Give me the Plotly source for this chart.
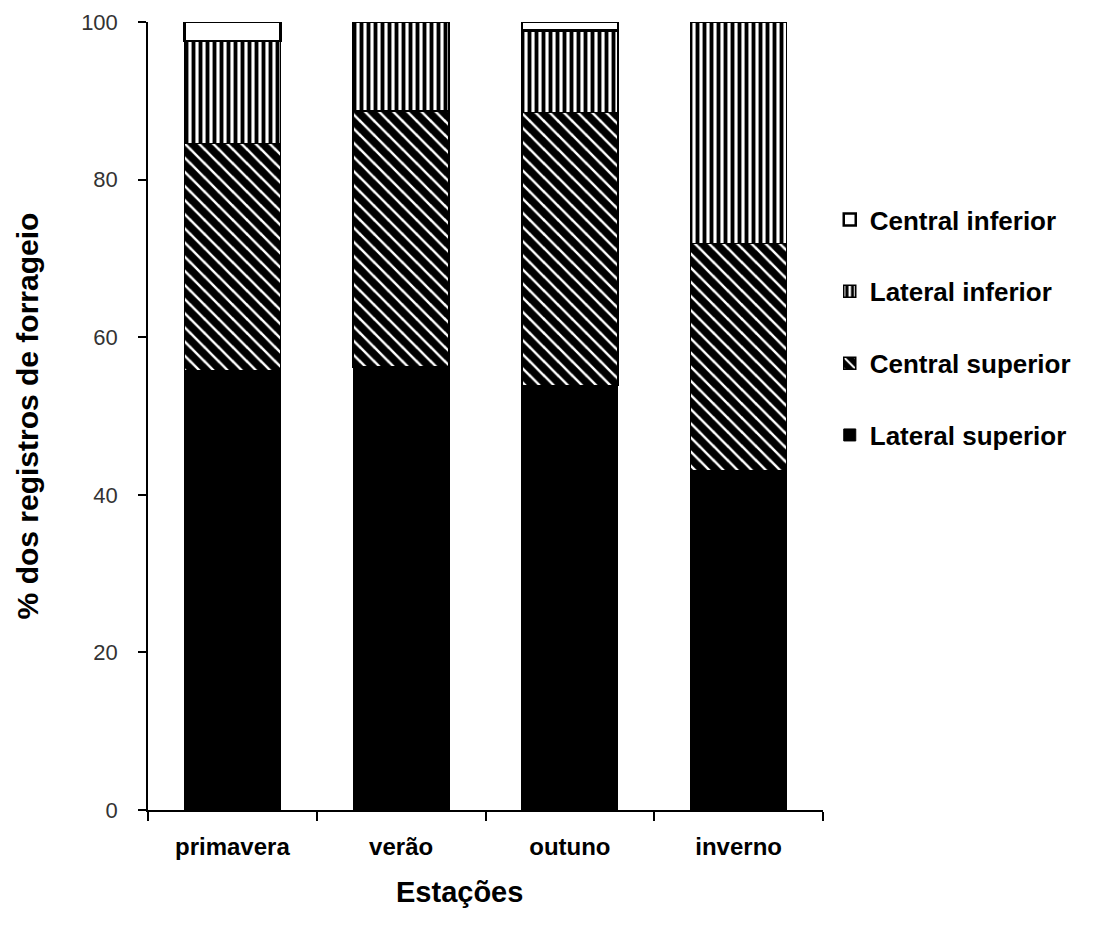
import plotly.graph_objects as go

categories = ["primavera", "verão", "outuno", "inverno"]
lateral_superior = [55.8, 56.2, 53.9, 43.1]
central_superior = [28.8, 32.5, 34.6, 28.8]
lateral_inferior = [13.0, 11.3, 10.4, 28.1]
central_inferior = [2.4, 0.0, 1.1, 0.0]
y_ticks = [0, 20, 40, 60, 80, 100]

fig = go.Figure()

fig.add_trace(go.Bar(
    x=categories, y=lateral_superior, name="Lateral superior",
    legendgroup="a", legendrank=4,
    marker=dict(color="black", line=dict(color="black", width=1)),
))
fig.add_trace(go.Bar(
    x=categories, y=central_superior, name="Central superior",
    legendgroup="b", legendrank=3,
    marker=dict(color="black", line=dict(color="black", width=1.5),
                pattern=dict(shape="\\", bgcolor="black", fgcolor="white",
                             size=10, solidity=0.25, fillmode="replace")),
))
fig.add_trace(go.Bar(
    x=categories, y=lateral_inferior, name="Lateral inferior",
    legendgroup="c", legendrank=2,
    marker=dict(color="white", line=dict(color="black", width=1.5),
                pattern=dict(shape="|", bgcolor="white", fgcolor="black",
                             size=7, solidity=0.55, fillmode="replace")),
))
fig.add_trace(go.Bar(
    x=categories, y=central_inferior, name="Central inferior",
    legendgroup="d", legendrank=1,
    marker=dict(color="white", line=dict(color="black", width=2.5)),
))

font_family = "Liberation Sans, Arial, sans-serif"

fig.update_layout(
    width=1090, height=934,
    barmode="stack", bargap=0.43,
    plot_bgcolor="white", paper_bgcolor="white",
    margin=dict(l=140, r=275, t=14, b=132),
    font=dict(family=font_family, color="black"),
    showlegend=True,
    legend=dict(
        x=1.01, y=0.779, xanchor="left", yanchor="top",
        traceorder="grouped", tracegroupgap=35,
        font=dict(size=26, family=font_family, weight="bold"),
        itemwidth=30,
    ),
    xaxis=dict(
        automargin=False,
        showline=True, linecolor="black", linewidth=1.5,
        ticks="outside", ticklen=9, tickcolor="black", tickwidth=1.5,
        tickson="boundaries", ticklabelstandoff=14,
        tickfont=dict(size=24, family=font_family, weight="bold"),
        showgrid=False,
    ),
    yaxis=dict(
        automargin=False,
        range=[0, 100], tickvals=y_ticks,
        showline=True, linecolor="black", linewidth=1.5,
        ticks="outside", ticklen=8, tickcolor="black", tickwidth=1.5,
        ticklabelstandoff=16,
        tickfont=dict(size=22, family=font_family, color="#333"),
        title=dict(text="% dos registros de forrageio",
                   font=dict(size=30, family=font_family, weight="bold"),
                   standoff=34),
        showgrid=False, zeroline=False,
    ),
    annotations=[dict(
        text="Estações", xref="paper", yref="paper",
        x=0.462, y=-0.104, xanchor="center", yanchor="middle",
        showarrow=False,
        font=dict(size=29, family=font_family, weight="bold", color="black"),
    )],
)

fig.write_html("out.html")
